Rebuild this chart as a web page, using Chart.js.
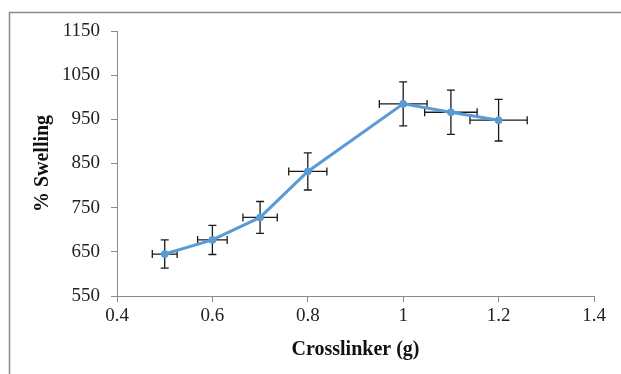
<!DOCTYPE html>
<html>
<head>
<meta charset="utf-8">
<script src="https://cdn.jsdelivr.net/npm/chart.js@4"></script>
<style>
  html, body { margin: 0; padding: 0; background: #fff; }
  #wrap { width: 621px; height: 374px; }
</style>
</head>
<body>
<div id="wrap"><canvas id="swellChart" width="621" height="374"></canvas></div>
<script>
// crosslinker amount (g) and % swelling
const crosslinker = [0.5, 0.6, 0.7, 0.8, 1.0, 1.1, 1.2];
const swelling = [645, 677, 728, 832, 985, 966, 948];
// error bar half widths
const swellingErr = [32, 33, 36, 42, 50, 50, 47];
const crosslinkerErr = [0.026, 0.031, 0.036, 0.04, 0.05, 0.055, 0.06];

const xMin = 0.4, xMax = 1.4, xStep = 0.2;
const yMin = 550, yMax = 1150, yStep = 100;

const points = crosslinker.map((x, i) => ({ x: x, y: swelling[i] }));

// excel style outer frame
const framePlugin = {
    id: 'frame',
    beforeDraw(chart) {
        const ctx = chart.ctx;
        ctx.save();
        ctx.fillStyle = '#fff';
        ctx.fillRect(0, 0, chart.width, chart.height);
        ctx.strokeStyle = '#8a8a8a';
        ctx.lineWidth = 1.5;
        ctx.beginPath();
        ctx.moveTo(9.5, chart.height + 5);
        ctx.lineTo(9.5, 12.5);
        ctx.lineTo(chart.width + 5, 12.5);
        ctx.stroke();
        ctx.restore();
    }
};

// x and y error bars, positioned through the chart scales (drawn under the line)
const errorBarPlugin = {
    id: 'errorBars',
    beforeDatasetsDraw(chart) {
        const ctx = chart.ctx;
        const xs = chart.scales.x, ys = chart.scales.y;
        const cap = 4;
        ctx.save();
        ctx.strokeStyle = '#1a1a1a';
        ctx.lineWidth = 1.3;
        crosslinker.forEach((x, i) => {
            const px = xs.getPixelForValue(x);
            const py = ys.getPixelForValue(swelling[i]);
            const top = ys.getPixelForValue(swelling[i] + swellingErr[i]);
            const bot = ys.getPixelForValue(swelling[i] - swellingErr[i]);
            const left = xs.getPixelForValue(x - crosslinkerErr[i]);
            const right = xs.getPixelForValue(x + crosslinkerErr[i]);
            ctx.beginPath();
            ctx.moveTo(px, top); ctx.lineTo(px, bot);
            ctx.moveTo(px - cap, top); ctx.lineTo(px + cap, top);
            ctx.moveTo(px - cap, bot); ctx.lineTo(px + cap, bot);
            ctx.moveTo(left, py); ctx.lineTo(right, py);
            ctx.moveTo(left, py - cap); ctx.lineTo(left, py + cap);
            ctx.moveTo(right, py - cap); ctx.lineTo(right, py + cap);
            ctx.stroke();
        });
        ctx.restore();
    }
};

const tickFont = { family: '"Liberation Serif", "Times New Roman", serif', size: 19 };
const titleFont = { family: '"Liberation Serif", "Times New Roman", serif', size: 20, weight: 'bold' };

new Chart(document.getElementById('swellChart').getContext('2d'), {
    type: 'scatter',
    data: {
        datasets: [{
            label: '% Swelling',
            data: points,
            showLine: true,
            borderColor: '#5b9bd5',
            backgroundColor: '#5b9bd5',
            pointBorderColor: '#5b9bd5',
            borderWidth: 3,
            pointRadius: 3.5,
            pointHoverRadius: 3.5,
            pointBorderWidth: 1,
            tension: 0
        }]
    },
    options: {
        responsive: false,
        animation: false,
        layout: { padding: { top: 31, right: 27, left: 0, bottom: 0 } },
        plugins: {
            legend: { display: false },
            tooltip: { enabled: false }
        },
        scales: {
            x: {
                type: 'linear',
                min: xMin,
                max: xMax,
                afterFit(scale) { scale.height = 78; },
                ticks: {
                    stepSize: xStep,
                    color: '#222',
                    font: tickFont,
                    padding: 3,
                    maxRotation: 0,
                    callback: v => String(Number(v.toFixed(1)))
                },
                grid: { drawOnChartArea: false, color: '#8a8a8a', tickLength: 6 },
                border: { color: '#8a8a8a', width: 1 },
                title: {
                    display: true,
                    text: 'Crosslinker (g)',
                    color: '#111',
                    font: titleFont,
                    padding: { top: 0, bottom: 12 }
                }
            },
            y: {
                type: 'linear',
                min: yMin,
                max: yMax,
                afterFit(scale) { scale.width = 117; },
                ticks: {
                    stepSize: yStep,
                    color: '#222',
                    font: tickFont,
                    padding: 11,
                    callback: v => String(v)
                },
                grid: { drawOnChartArea: false, color: '#8a8a8a', tickLength: 6 },
                border: { color: '#8a8a8a', width: 1 },
                title: {
                    display: true,
                    text: '% Swelling',
                    color: '#111',
                    font: titleFont,
                    padding: { top: 31, bottom: 0 }
                }
            }
        }
    },
    plugins: [framePlugin, errorBarPlugin]
});
</script>
</body>
</html>
